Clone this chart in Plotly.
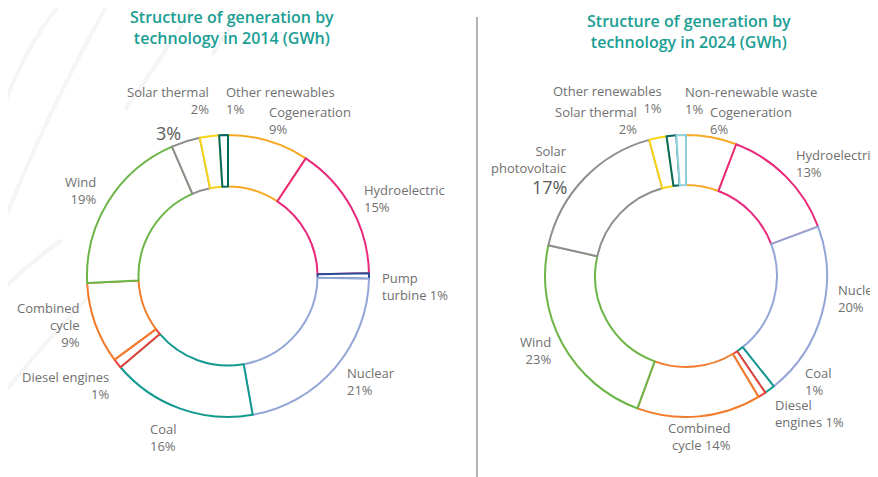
import plotly.graph_objects as go

# page has an 8px body margin, so the figure is drawn slightly smaller and
# reference pixel positions are shifted by OFF
W, H = 870, 469
OFF = 8

# --- data -----------------------------------------------------------------
tech_2014 = ["Cogeneration", "Hydroelectric", "Pump turbine", "Nuclear", "Coal",
             "Diesel engines", "Combined cycle", "Wind", "Solar photovoltaic",
             "Solar thermal", "Other renewables"]
share_2014 = [9.3, 15.4, 0.6, 21.9, 16.6, 1.1, 9.3, 19.3, 3.3, 2.2, 1.0]

tech_2024 = ["Cogeneration", "Hydroelectric", "Nuclear", "Coal", "Diesel engines",
             "Combined cycle", "Wind", "Solar photovoltaic", "Solar thermal",
             "Other renewables", "Non-renewable waste"]
share_2024 = [5.8, 13.5, 20.0, 1.2, 0.9, 14.2, 22.9, 17.3, 2.0, 1.1, 1.1]

text_2014 = ["Cogeneration<br>9%", "Hydroelectric<br>15%", "Pump<br>turbine 1%",
             "Nuclear<br>21%", "Coal<br>16%", "Diesel engines<br>1%",
             "Combined<br>cycle<br>9%", "Wind<br>19%", "",
             "Solar thermal<br>2%", "Other renewables<br>1%"]
text_2024 = ["Cogeneration<br>6%", "Hydroelectric<br>13%", "Nuclear<br>20%",
             "Coal<br>1%", "Diesel<br>engines 1%", "Combined<br>cycle 14%",
             "Wind<br>23%", "Solar<br>photovoltaic",
             "Solar thermal<br>2%", "Other renewables<br>1%", "Non-renewable waste<br>1%"]

# highlighted (large) percentages
big_2014 = {"Solar photovoltaic": "3%"}
big_2024 = {"Solar photovoltaic": "17%"}

colors = {
    "Cogeneration": "#f7a823",
    "Hydroelectric": "#e8297c",
    "Pump turbine": "#2b4c94",
    "Nuclear": "#94a6d6",
    "Coal": "#13998f",
    "Diesel engines": "#e8423a",
    "Combined cycle": "#f07c2c",
    "Wind": "#6cb547",
    "Solar photovoltaic": "#8e8e8e",
    "Solar thermal": "#f7d417",
    "Other renewables": "#03695d",
    "Non-renewable waste": "#8fcfdc",
}

# label placement in reference pixels (x, block centre y, anchor side)
pos_2014 = [(267, 121, "left"), (362, 198, "left"), (380, 286, "left"),
            (345, 381, "left"), (148, 437, "left"), (111, 385, "right"),
            (82, 325, "right"), (98, 191, "right"), (0, 0, "right"),
            (211, 100, "right"), (224, 100, "left")]
pos_2024 = [(708, 120, "left"), (794, 164, "left"), (836, 298, "left"),
            (803, 381, "left"), (773, 413, "left"), (733, 436, "right"),
            (553, 350, "right"), (569, 159, "right"),
            (639, 120, "right"), (664, 99, "right"), (683, 100, "left")]
big_pos = {("2014", "Solar photovoltaic"): (183, 133),
           ("2024", "Solar photovoltaic"): (569, 187)}

FONT = "Open Sans"
GREY = "#707070"
TEAL = "#1a9e94"


def px(x, y):
    return (x - OFF) / W, 1 - (y - OFF) / H


def ring(techs, vals, cx, cy, r, hole):
    x0, _ = px(cx - r, 0)
    x1, _ = px(cx + r, 0)
    _, y1 = px(0, cy - r)
    _, y0 = px(0, cy + r)
    return go.Pie(
        labels=techs, values=vals, sort=False, direction="clockwise",
        rotation=0, hole=hole, textinfo="none", hoverinfo="label+percent",
        showlegend=False,
        marker=dict(colors=["white"] * len(techs),
                    line=dict(color=[colors[t] for t in techs], width=2)),
        domain=dict(x=[x0, x1], y=[y0, y1]),
    )


fig = go.Figure()
fig.add_trace(ring(tech_2014, share_2014, 228, 276, 141, 0.635))
fig.add_trace(ring(tech_2024, share_2024, 686, 276, 141, 0.645))

annotations = []
for texts, positions in ((text_2014, pos_2014), (text_2024, pos_2024)):
    for t, (x, y, side) in zip(texts, positions):
        if not t:
            continue
        ax, ay = px(x, y)
        annotations.append(dict(
            x=ax, y=ay, xref="paper", yref="paper", text=t, showarrow=False,
            xanchor=side, yanchor="middle", align=side,
            font=dict(family=FONT, size=13, color=GREY)))

for year, big in (("2014", big_2014), ("2024", big_2024)):
    for tech, t in big.items():
        ax, ay = px(*big_pos[(year, tech)])
        annotations.append(dict(
            x=ax, y=ay, xref="paper", yref="paper", text=t, showarrow=False,
            xanchor="right", yanchor="middle",
            font=dict(family=FONT, size=18, color="#5a5a5a")))

for title, cx, cy in (("Structure of generation by<br>technology in 2014 (GWh)", 232, 27),
                      ("Structure of generation by<br>technology in 2024 (GWh)", 689, 31)):
    ax, ay = px(cx, cy)
    annotations.append(dict(
        x=ax, y=ay, xref="paper", yref="paper", text=title, showarrow=False,
        xanchor="center", yanchor="middle", align="center",
        font=dict(family=FONT, size=16, color=TEAL, weight=600)))

# faint decorative arcs in the background + divider
shapes = []
arcs = [((63, 0), (22, 50), (0, 117)),
        ((110, 0), (45, 115), (0, 232)),
        ((62, 240), (30, 262), (0, 292)),
        ((147, 240), (70, 310), (0, 398)),
        ((198, 0), (170, 45), (125, 110)),
        ((246, 0), (232, 25), (212, 55))]
for a, b, c in arcs:
    pts = [px(*p) for p in (a, b, c)]
    path = "M {} {} Q {} {} {} {}".format(pts[0][0], pts[0][1], pts[1][0], pts[1][1],
                                          pts[2][0], pts[2][1])
    shapes.append(dict(type="path", path=path, xref="paper", yref="paper",
                       line=dict(color="#f5f5f5", width=4), layer="below"))
dx, dy0 = px(477, 17)
_, dy1 = px(477, 477)
shapes.append(dict(type="line", xref="paper", yref="paper", x0=dx, x1=dx,
                   y0=dy0, y1=dy1, line=dict(color="#9a9a9a", width=1.5)))

fig.update_layout(
    width=W, height=H, margin=dict(l=0, r=0, t=0, b=0),
    paper_bgcolor="white", plot_bgcolor="white",
    annotations=annotations, shapes=shapes,
    font=dict(family=FONT),
)

fig.write_html("out.html")
